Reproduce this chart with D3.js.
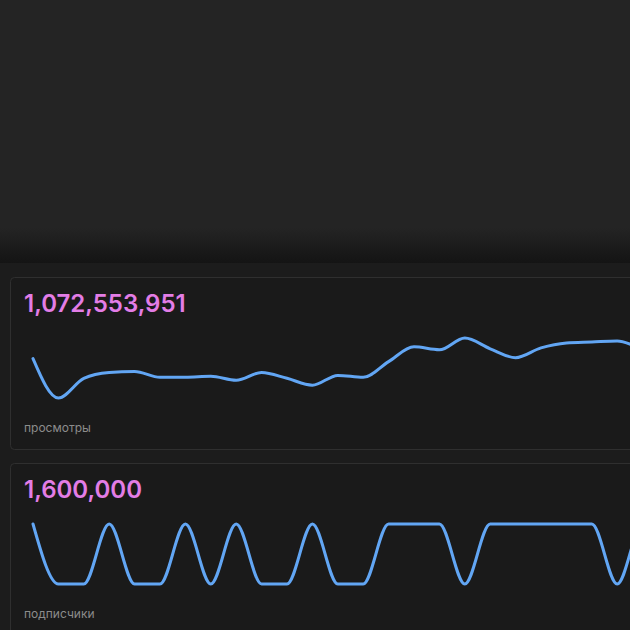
<!DOCTYPE html>
<html>
<head>
<meta charset="utf-8">
<style>
  html, body { margin: 0; padding: 0; background: #1c1c1c; }
  svg { display: block; }
  .big { font-family: Inter, "Noto Sans", sans-serif; font-weight: 600; font-size: 24px; fill: #e37de6; }
  .cap { font-family: Inter, "Noto Sans", sans-serif; font-size: 12px; fill: #8c8c8c; }
</style>
</head>
<body>
<svg id="chart" width="630" height="630"></svg>
<script src="https://cdn.jsdelivr.net/npm/d3@7"></script>
<script>
// days of the period (index only)
var days = d3.range(26);

// views per day, millions
var views = [41.0, 21.0, 31.0, 34.0, 34.5, 31.5, 31.5, 32.0, 30.0, 34.0, 31.0, 27.5,
             32.5, 31.5, 39.5, 47.0, 45.5, 51.5, 46.0, 41.5, 46.5, 49.0, 49.5, 50.0, 46.0, 43.0];

// subscribers total
var subs = [1600000, 1599999, 1599999, 1600000, 1599999, 1599999, 1600000, 1599999,
            1600000, 1599999, 1599999, 1600000, 1599999, 1599999, 1600000, 1600000,
            1600000, 1599999, 1600000, 1600000, 1600000, 1600000, 1600000, 1599999,
            1600000, 1600000];

var cards = [
  { total: "1,072,553,951", label: "просмотры", values: views, top: 277 },
  { total: "1,600,000", label: "подписчики", values: subs, top: 463 }
];

var svg = d3.select("#chart");

var defs = svg.append("defs");
var grad = defs.append("linearGradient")
  .attr("id", "shade").attr("x1", 0).attr("y1", 0).attr("x2", 0).attr("y2", 1);
grad.append("stop").attr("offset", "0%").attr("stop-color", "#242424");
grad.append("stop").attr("offset", "100%").attr("stop-color", "#141414");

// header area with its shadow
svg.append("rect").attr("x", 0).attr("y", 0).attr("width", 630).attr("height", 228).attr("fill", "#242424");
svg.append("rect").attr("x", 0).attr("y", 228).attr("width", 630).attr("height", 35).attr("fill", "url(#shade)");

var x = d3.scaleLinear().domain([0, 23]).range([33, 617.2]);

cards.forEach(function(c) {
  var g = svg.append("g").attr("transform", "translate(0," + c.top + ")");

  g.append("rect")
    .attr("x", 10.5).attr("y", 0.5)
    .attr("width", 700).attr("height", 172)
    .attr("rx", 4)
    .attr("fill", "#1a1a1a")
    .attr("stroke", "#2f2f2f");

  g.append("text").attr("class", "big").attr("x", 24).attr("y", 35).text(c.total);
  g.append("text").attr("class", "cap").attr("x", 24).attr("y", 155).text(c.label);

  var ext = d3.extent(c.values);
  var y = d3.scaleLinear().domain(ext).range([121, 61]);
  if (c.values === views) y.domain([21, 51.5]);

  var line = d3.line()
    .x(function(d, i) { return x(days[i]); })
    .y(function(d) { return y(d); })
    .curve(d3.curveMonotoneX);

  g.append("path")
    .datum(c.values)
    .attr("d", line)
    .attr("fill", "none")
    .attr("stroke", "#62a6f4")
    .attr("stroke-width", 3)
    .attr("stroke-linejoin", "round")
    .attr("stroke-linecap", "round");
});
</script>
</body>
</html>
